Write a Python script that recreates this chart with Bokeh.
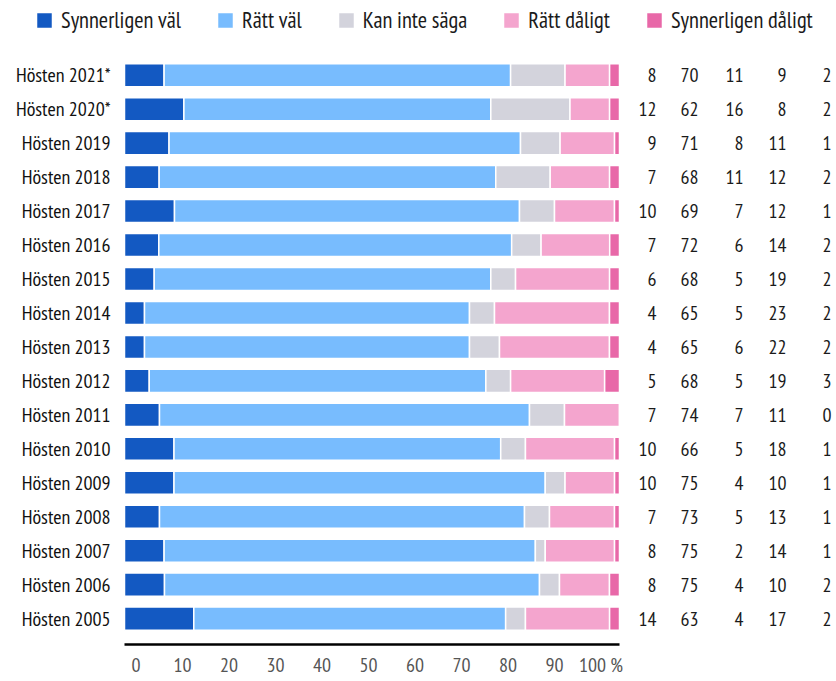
from bokeh.plotting import figure
from bokeh.models import (ColumnDataSource, Range1d, LinearAxis,
                          FixedTicker, Legend, LegendItem)
from bokeh.core.properties import value
from bokeh.embed import file_html
from bokeh.resources import INLINE

# ---------------- data ----------------
years = ["Hösten 2021*", "Hösten 2020*", "Hösten 2019", "Hösten 2018", "Hösten 2017",
         "Hösten 2016", "Hösten 2015", "Hösten 2014", "Hösten 2013", "Hösten 2012",
         "Hösten 2011", "Hösten 2010", "Hösten 2009", "Hösten 2008", "Hösten 2007",
         "Hösten 2006", "Hösten 2005"]
series_names = ["Synnerligen väl", "Rätt väl", "Kan inte säga", "Rätt dåligt", "Synnerligen dåligt"]
synnerligen_val = [8, 12, 9, 7, 10, 7, 6, 4, 4, 5, 7, 10, 10, 7, 8, 8, 14]
ratt_val = [70, 62, 71, 68, 69, 72, 68, 65, 65, 68, 74, 66, 75, 73, 75, 75, 63]
kan_inte_saga = [11, 16, 8, 11, 7, 6, 5, 5, 6, 5, 7, 5, 4, 5, 2, 4, 4]
ratt_daligt = [9, 8, 11, 12, 12, 14, 19, 23, 22, 19, 11, 18, 10, 13, 14, 10, 17]
synnerligen_daligt = [2, 2, 1, 2, 1, 2, 2, 2, 2, 3, 0, 1, 1, 1, 1, 2, 2]
x_tick_values = [0, 10, 20, 30, 40, 50, 60, 70, 80, 90, 100]
x_tick_labels = ["0", "10", "20", "30", "40", "50", "60", "70", "80", "90", "100 %"]

series = [synnerligen_val, ratt_val, kan_inte_saga, ratt_daligt, synnerligen_daligt]
colors = ["#1359c2", "#78bcfe", "#d3d3dc", "#f4a5ce", "#e868a8"]
keys = ["s0", "s1", "s2", "s3", "s4"]

FONT = "PT Sans Narrow"

# ---------------- layout constants (pixels) ----------------
W, H = 836, 680
BAR_X0 = 124            # px where 0 % lies
PX_PER_UNIT = 4.95
LAB_ZERO = 135.5        # px of label-axis zero
LAB_PX_PER_UNIT = 4.65
COL_RIGHT = [656, 698, 743, 786, 831]
YLAB_RIGHT = 110
PAD_BOTTOM, PAD_TOP = 0.35, 1.70
FRAME_H_EST = 650       # approx frame height in px
BASE_OFFSET_PX = 3      # base line drawn this far above the frame bottom

x_start = -BAR_X0 / PX_PER_UNIT
x_end = (W - BAR_X0) / PX_PER_UNIT
n = len(years)
ypos = [n - 1 - i for i in range(n)]
y_lo = -0.5 - PAD_BOTTOM
y_hi = n - 0.5 + PAD_TOP

data = dict(year=years, y=ypos)
for k in keys:
    data[k] = []
for i in range(n):
    tot = sum(s[i] for s in series)
    for k, s in zip(keys, series):
        data[k].append(s[i] * 100.0 / tot)
for j, s in enumerate(series):
    data["t%d" % j] = [str(v) for v in s]
src = ColumnDataSource(data)

p = figure(width=W, height=H, output_backend="svg", toolbar_location=None,
           x_range=Range1d(x_start, x_end),
           y_range=Range1d(y_lo, y_hi),
           x_axis_location=None, y_axis_location=None,
           min_border_left=0, min_border_right=0,
           min_border_top=0, min_border_bottom=0)
p.outline_line_color = None
p.grid.visible = False

rs = p.hbar_stack(keys, y="y", height=0.68, color=colors, line_color="white",
                  line_width=1.5, source=src)

# base line of the value scale (0 – 100 %), inside the frame bottom
base_y = y_lo + BASE_OFFSET_PX * (y_hi - y_lo) / FRAME_H_EST
p.segment(x0=x_tick_values[0], x1=x_tick_values[-1], y0=base_y, y1=base_y,
          line_color="black", line_width=2.5)

# category labels
p.text(x=(YLAB_RIGHT - BAR_X0) / PX_PER_UNIT, y="y", text="year", source=src,
       text_align="right", text_baseline="middle", text_font=value(FONT),
       text_font_size="20px", text_color="#111111")

# number columns
for j in range(5):
    xpos = (COL_RIGHT[j] - BAR_X0) / PX_PER_UNIT
    p.text(x=xpos, y="y", text="t%d" % j, source=src, text_align="right",
           text_baseline="middle", text_font=value(FONT), text_font_size="20px",
           text_color="#1a1a1a")

# x axis labels on their own scale
lab0 = (0 - LAB_ZERO) / LAB_PX_PER_UNIT
lab1 = (W - LAB_ZERO) / LAB_PX_PER_UNIT
p.extra_x_ranges = {"lab": Range1d(lab0, lab1)}
xaxis = LinearAxis(x_range_name="lab", ticker=FixedTicker(ticks=x_tick_values),
                   major_label_overrides={v: t for v, t in zip(x_tick_values, x_tick_labels)},
                   axis_line_color=None,
                   major_tick_line_color=None, minor_tick_line_color=None,
                   major_tick_out=0, major_tick_in=0, major_label_standoff=4,
                   major_label_text_font=FONT, major_label_text_font_size="20px",
                   major_label_text_color="#555555")
p.add_layout(xaxis, "below")

legend = Legend(items=[LegendItem(label=nm, renderers=[r]) for nm, r in zip(series_names, rs)],
                orientation="horizontal", location=(34, 613),
                glyph_width=20, glyph_height=20, label_standoff=7, spacing=34,
                padding=0, margin=0, border_line_color=None, background_fill_alpha=0,
                label_text_font=FONT, label_text_font_size="22.5px",
                label_text_color="#1a1a1a")
p.add_layout(legend)

open("out.html", "w").write(file_html(p, INLINE))
